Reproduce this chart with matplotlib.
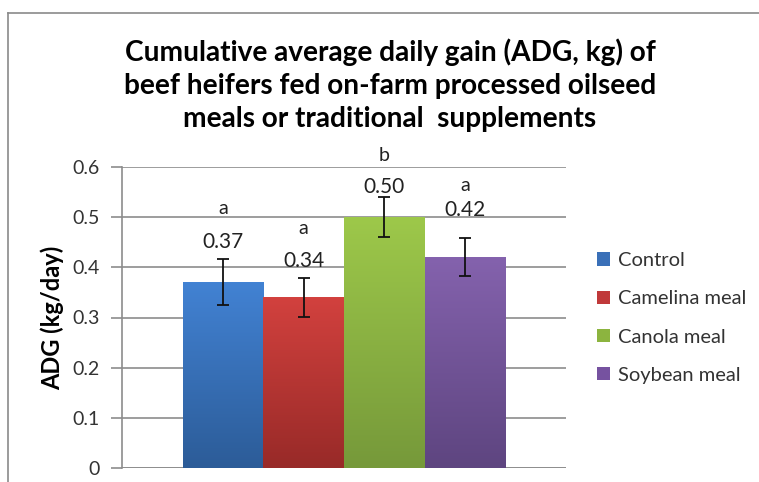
import matplotlib.pyplot as plt
import numpy as np
from matplotlib.lines import Line2D
from matplotlib.patches import Patch

plt.rcParams['font.family'] = ['Lato', 'DejaVu Sans']

# data
groups = ['Control', 'Camelina meal', 'Canola meal', 'Soybean meal']
adg = [0.37, 0.34, 0.50, 0.42]
err = [0.046, 0.039, 0.040, 0.038]
letters = ['a', 'a', 'b', 'a']
value_y = [0.451, 0.413, 0.560, 0.514]
letter_y = [0.518, 0.478, 0.623, 0.564]
top_colors = ['#4282d3', '#d2413e', '#9dc84a', '#8462ad']
bottom_colors = ['#2c5c98', '#982a28', '#76993a', '#5e4580']
legend_colors = ['#3a70b8', '#c0393a', '#8cb43f', '#7652a0']

fig = plt.figure(figsize=(7.59, 4.82), dpi=100)
ax = fig.add_axes([122 / 759, 14 / 482, 444 / 759, 301 / 482])

# outer chart frame
fig.add_artist(Line2D([8 / 759, 8 / 759], [0, 469 / 482], color='#8a8a8a', lw=1.2))
fig.add_artist(Line2D([8 / 759, 1], [469 / 482, 469 / 482], color='#8a8a8a', lw=1.2))

w = 1 / 5.5
xs = [(i - 1.5) * w for i in range(4)]
bars = ax.bar(xs, adg, width=w, color=legend_colors, zorder=2)

# vertical gradient fill on each bar
for b, c1, c2 in zip(bars, top_colors, bottom_colors):
    x0, y0 = b.get_x(), b.get_y()
    x1, y1 = x0 + b.get_width(), y0 + b.get_height()
    a = np.array(plt.matplotlib.colors.to_rgb(c1))
    z = np.array(plt.matplotlib.colors.to_rgb(c2))
    t = np.linspace(0, 1, 100)[:, None]
    grad = (z * t + a * (1 - t))[:, None, :]
    im = ax.imshow(grad, extent=[x0, x1, y0, y1], origin='upper', aspect='auto', zorder=2.1)
    im.set_clip_path(b)

ax.errorbar(xs, adg, yerr=err, fmt='none', ecolor='#111111', elinewidth=1.3, capsize=4, capthick=1.3, zorder=3)

for x, v, vy, l, ly in zip(xs, adg, value_y, letters, letter_y):
    ax.text(x, vy, f'{v:.2f}', ha='center', va='center', fontsize=15, color='#222222', clip_on=False)
    ax.text(x, ly, l, ha='center', va='center', fontsize=14, color='#222222', clip_on=False)

ax.set_xlim(-0.5, 0.5)
ax.set_ylim(0, 0.6)
ax.set_yticks(np.arange(0, 0.61, 0.1))
ax.set_yticklabels(['0', '0.1', '0.2', '0.3', '0.4', '0.5', '0.6'])
ax.set_xticks([])
ax.grid(axis='y', color='#8c8c8c', lw=1.2, zorder=0)
ax.set_axisbelow(True)
for s in ['top', 'right', 'bottom']:
    ax.spines[s].set_visible(False)
ax.spines['left'].set_color('#8c8c8c')
ax.spines['left'].set_linewidth(1.2)
ax.axhline(0, color='#8c8c8c', lw=1.2, zorder=1)
ax.tick_params(axis='y', length=8, width=1.2, color='#8c8c8c', labelsize=14, labelcolor='#333333', pad=8)

ax.set_ylabel('ADG (kg/day)', fontsize=17, fontweight='bold', labelpad=6)

fig.text(390 / 759, 1 - 85 / 482,
         'Cumulative average daily gain (ADG, kg) of\nbeef heifers fed on-farm processed oilseed\nmeals or traditional  supplements',
         ha='center', va='center', fontsize=20.2, fontweight='bold', linespacing=1.33)

handles = [Patch(facecolor=c, edgecolor='none') for c in legend_colors]
fig.legend(handles, groups, loc='center left', bbox_to_anchor=(597 / 759, 1 - 318 / 482),
           frameon=False, fontsize=14.5, handlelength=0.65, handleheight=0.65, handletextpad=0.4,
           labelspacing=1.05, borderpad=0, borderaxespad=0, labelcolor='#333333')

fig.savefig('out.png', dpi=100)
